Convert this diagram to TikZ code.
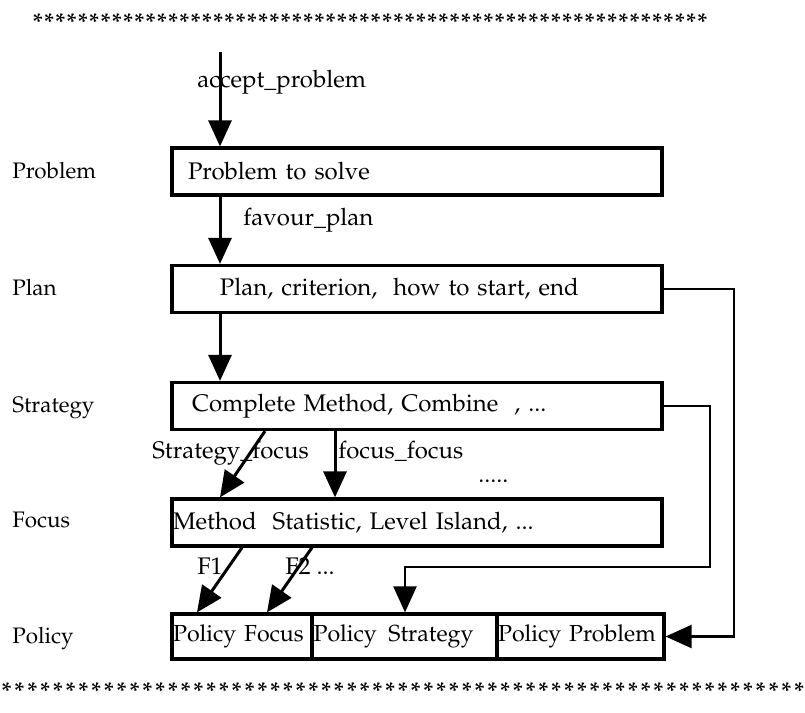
\documentclass[tikz,border=0pt]{standalone}
\usepackage[T1]{fontenc}
\renewcommand{\rmdefault}{ppl}
\usetikzlibrary{arrows.meta}

% a row of evenly spaced asterisks: #1 = count, #2 = pitch
\newcommand{\starrow}[2]{\foreach \k in {1,...,#1}{\makebox[#2]{\bfseries *}}}

\begin{document}
\begin{tikzpicture}[x=0.5pt,y=-0.5pt,
  every node/.style={font=\fontsize{12}{14}\selectfont, inner sep=0pt},
  box/.style={draw, line width=1.6pt, minimum height=23.5pt, text width=245pt, align=left},
  pbox/.style={draw, line width=1.6pt, minimum height=22.5pt, align=left, anchor=center,
               font=\fontsize{11.6}{14}\selectfont},
  lbl/.style={anchor=base west},
  side/.style={anchor=base west, font=\fontsize{11.2}{14}\selectfont},
  tip/.style={-{Triangle[length=13pt,width=11.5pt]}},
  arr/.style={line width=1.5pt, tip},
  route/.style={line width=1.1pt}
]
\fill[white] (0,0) rectangle (805,713);
\useasboundingbox (0,0) rectangle (805,713);

% asterisk rules
\node[anchor=west] (topstars) at (32,22) {\starrow{60}{5.63pt}};
\node[anchor=west] (botstars) at (0,691) {\starrow{63}{6.39pt}};

% level names
\node[side] (lproblem)  at (12,178) {Problem};
\node[side] (lplan)     at (12,295) {Plan};
\node[side] (lstrategy) at (12,412) {Strategy};
\node[side] (lfocus)    at (12,527) {Focus};
\node[side] (lpolicy)   at (12,643) {Policy};

% level boxes
\node[box] (prob)  at (417,171.5) {\hspace*{8pt}Problem to solve};
\node[box] (plan)  at (417,289)   {\hspace*{24pt}Plan, criterion,\ \ how to start, end};
\node[box] (strat) at (417,406)   {\hspace*{10pt}Complete Method, Combine\ \ , ...};
\node[box] (focus) at (417,522.5) {\hspace*{0.5pt}Method\ \ Statistic, Level Island, ...};

% policy boxes
\node[pbox, minimum width=70pt,   text width=70pt]   (pf) at (242,636.5)   {\hspace*{0.5pt}Policy Focus};
\node[pbox, minimum width=92.5pt, text width=92.5pt] (ps) at (405,636.5)   {\hspace*{0.5pt}Policy\ \,Strategy};
\node[pbox, minimum width=83.5pt, text width=83.5pt] (pp) at (580.5,636.5) {\hspace*{0.5pt}Policy Problem};

% vertical flow
\coordinate (src) at (220,52);
\draw[arr] (src) -- (src |- prob.north);
\draw[arr] (prob.south -| src) -- (src |- plan.north);
\draw[arr] (plan.south -| src) -- (src |- strat.north);

\node[lbl] (tacc) at (197,87)  {accept\_problem};
\node[lbl] (tfav) at (243,225) {favour\_plan};

% strategy to focus
\coordinate (sfs) at (265,0);
\coordinate (ffs) at (335,0);
\draw[arr] (strat.south -| sfs) -- (focus.north -| src);
\draw[arr] (strat.south -| ffs) -- (focus.north -| ffs);
\node[lbl] (tsf)  at (152,458) {Strategy\_focus};
\node[lbl] (tff)  at (338,458) {focus\_focus};
\node[lbl] (tdots) at (478,482) {.....};

% focus to policy
\coordinate (f1s) at (242,0);
\coordinate (f1e) at (197,0);
\coordinate (f2s) at (312,0);
\coordinate (f2e) at (267,0);
\draw[arr] (focus.south -| f1s) -- (pf.north -| f1e);
\draw[arr] (focus.south -| f2s) -- (pf.north -| f2e);
\node[lbl] (tf1) at (197,574) {F1};
\node[lbl] (tf2) at (285,574) {F2 ...};

% side routes to the policy boxes
\coordinate (rs) at (710,567);
\draw[route, tip] (strat.east) -- (strat.east -| rs) -- (rs) -- (rs -| ps.north) -- (ps.north);
\coordinate (rp) at (734,0);
\draw[route, tip] (plan.east) -- (plan.east -| rp) -- (pp.east -| rp) -- (pp.east);
\end{tikzpicture}
\end{document}
